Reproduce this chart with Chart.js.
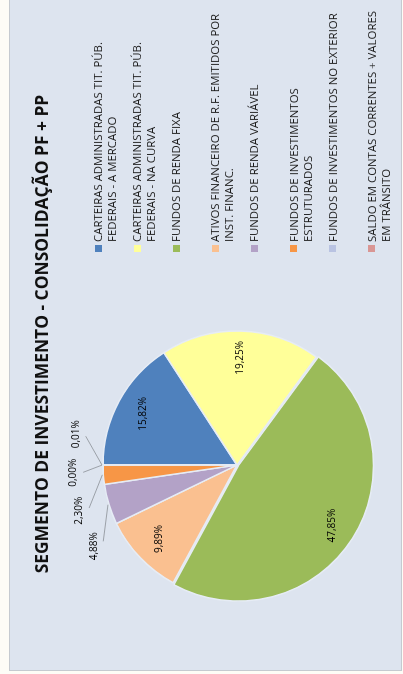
<!DOCTYPE html>
<html>
<head>
<meta charset="utf-8">
<title>Segmento de Investimento</title>
<script src="https://cdn.jsdelivr.net/npm/chart.js@4.4.1/dist/chart.umd.min.js"></script>
<style>
    html, body {
        margin: 0;
        padding: 0;
        width: 403px;
        height: 674px;
        overflow: hidden;
        background: #fdfcf6;
    }
    #frame {
        position: absolute;
        left: 9px;
        top: -3px;
        width: 391px;
        height: 672px;
        background: #dde4ef;
        border: 1px solid #c5cad0;
    }
    /* the whole chart is drawn lying on its side, as in the scan */
    #board {
        position: absolute;
        left: 0;
        top: 0;
        width: 672px;
        height: 391px;
        transform-origin: 0 0;
        transform: translateY(672px) rotate(-90deg);
        font-family: 'Open Sans', sans-serif;
    }
    #board canvas {
        position: absolute;
        left: 0;
        top: 0;
    }
    .chart-title {
        position: absolute;
        left: 0;
        top: 20px;
        width: 672px;
        text-align: center;
        font-weight: bold;
        font-size: 17.4px;
        line-height: 22px;
        color: #111;
        white-space: nowrap;
    }
    .legend-item {
        position: absolute;
        left: 418px;
        font-size: 11.4px;
        line-height: 14px;
        color: #1e1e1e;
        white-space: nowrap;
    }
    .legend-box {
        position: absolute;
        left: 0;
        top: 3.5px;
        width: 7px;
        height: 7px;
    }
    .legend-text {
        margin-left: 10px;
    }
</style>
</head>
<body>
<div id="frame">
    <div id="board">
        <canvas id="segmentChart" width="672" height="391"></canvas>
        <div class="chart-title">SEGMENTO DE INVESTIMENTO - CONSOLIDAÇÃO PF + PP</div>
        <div id="legend"></div>
    </div>
</div>

<script>
// categories (one entry per slice, split into the lines shown in the legend)
var categories = [
    ['CARTEIRAS ADMINISTRADAS TIT. PÚB.', 'FEDERAIS - A MERCADO'],
    ['CARTEIRAS ADMINISTRADAS TIT. PÚB.', 'FEDERAIS - NA CURVA'],
    ['FUNDOS DE RENDA FIXA'],
    ['ATIVOS FINANCEIRO DE R.F. EMITIDOS POR', 'INST. FINANC.'],
    ['FUNDOS DE RENDA VARIÁVEL'],
    ['FUNDOS DE INVESTIMENTOS', 'ESTRUTURADOS'],
    ['FUNDOS DE INVESTIMENTOS NO EXTERIOR'],
    ['SALDO EM CONTAS CORRENTES + VALORES', 'EM TRÂNSITO']
];

// share of each segment, in %
var shares = [15.82, 19.25, 47.85, 9.89, 4.88, 2.30, 0.00, 0.01];

var sliceColors = ['#4f81bd', '#ffff99', '#9bbb59', '#fac090', '#b3a2c7', '#f79646', '#b9c3e2', '#d99694'];

function formatShare(v) {
    return v.toFixed(2).replace('.', ',') + '%';
}

// build the legend
(function() {
    var legend = document.getElementById('legend');
    categories.forEach(function(lines, i) {
        var item = document.createElement('div');
        item.className = 'legend-item';
        item.style.top = (81 + i * 39.1) + 'px';
        var box = document.createElement('span');
        box.className = 'legend-box';
        box.style.background = sliceColors[i];
        var text = document.createElement('div');
        text.className = 'legend-text';
        text.innerHTML = lines.join('<br>');
        item.appendChild(box);
        item.appendChild(text);
        legend.appendChild(item);
    });
})();

// percentage labels: inside for big slices, outside with leader lines for small ones
var sliceLabels = {
    id: 'sliceLabels',
    afterDatasetsDraw: function(chart) {
        var ctx = chart.ctx;
        var meta = chart.getDatasetMeta(0);
        var values = chart.data.datasets[0].data;
        var outside = [];

        ctx.save();
        ctx.font = '10px "Open Sans"';
        ctx.fillStyle = '#000';
        ctx.textAlign = 'center';
        ctx.textBaseline = 'middle';

        meta.data.forEach(function(arc, i) {
            var p = arc.getProps(['x', 'y', 'startAngle', 'endAngle', 'outerRadius'], true);
            var mid = (p.startAngle + p.endAngle) / 2;
            var off = arc.options.offset || 0;
            if (values[i] >= 5) {
                var r = p.outerRadius * 0.8 + off;
                ctx.fillText(formatShare(values[i]), p.x + Math.cos(mid) * r, p.y + Math.sin(mid) * r);
            } else {
                outside.push({ i: i, mid: mid, angle: mid, x: p.x, y: p.y, r: p.outerRadius });
            }
        });

        // the last small label steps past the top, the others are pushed back so they do not overlap
        var sep = 13.5 * Math.PI / 180;
        for (var k = outside.length - 1; k >= 0; k--) {
            if (k === outside.length - 1) {
                outside[k].angle = outside[k].mid + sep * 0.8;
            } else {
                outside[k].angle = Math.min(outside[k].mid, outside[k + 1].angle - sep);
            }
        }

        ctx.strokeStyle = '#8a8f96';
        ctx.lineWidth = 0.8;
        outside.forEach(function(o) {
            var r0 = o.r + 1;
            var r1 = o.r + 20;
            var r2 = o.r + 30;
            ctx.beginPath();
            ctx.moveTo(o.x + Math.cos(o.mid) * r0, o.y + Math.sin(o.mid) * r0);
            ctx.lineTo(o.x + Math.cos(o.angle) * r1, o.y + Math.sin(o.angle) * r1);
            ctx.stroke();
            ctx.fillText(formatShare(values[o.i]), o.x + Math.cos(o.angle) * r2, o.y + Math.sin(o.angle) * r2);
        });
        ctx.restore();
    }
};

var ctx = document.getElementById('segmentChart');

new Chart(ctx, {
    type: 'pie',
    data: {
        labels: categories,
        datasets: [{
            data: shares,
            backgroundColor: sliceColors,
            borderColor: '#e6ecf5',
            borderWidth: 1.5,
            offset: [0, 0, 6, 0, 0, 0, 0, 0]
        }]
    },
    options: {
        responsive: false,
        animation: false,
        radius: 134,
        layout: {
            padding: { left: 55, right: 317, top: 77, bottom: 14 }
        },
        plugins: {
            legend: { display: false },
            title: { display: false },
            tooltip: { enabled: false }
        }
    },
    plugins: [sliceLabels]
});
</script>
</body>
</html>
